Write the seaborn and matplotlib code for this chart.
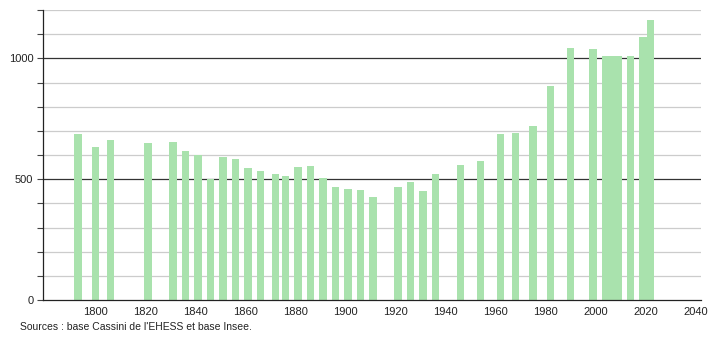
import matplotlib
matplotlib.use("Agg")
import matplotlib.pyplot as plt
import seaborn as sns
import pandas as pd

years = [1793, 1800, 1806, 1821, 1831, 1836, 1841, 1846, 1851, 1856, 1861, 1866,
         1872, 1876, 1881, 1886, 1891, 1896, 1901, 1906, 1911, 1921, 1926, 1931,
         1936, 1946, 1954, 1962, 1968, 1975, 1982, 1990, 1999,
         2004, 2005, 2006, 2007, 2008, 2009, 2014, 2019, 2022]
population = [685, 634, 661, 650, 655, 615, 602, 502, 591, 585, 545, 533,
              520, 512, 549, 553, 506, 466, 458, 456, 425, 466, 490, 452,
              521, 557, 577, 685, 689, 719, 884, 1041, 1037,
              1010, 1010, 1004, 1004, 1008, 1010, 1008, 1090, 1158]
x_ticks = [1800, 1820, 1840, 1860, 1880, 1900, 1920, 1940, 1960, 1980, 2000, 2020, 2040]
y_ticks = [0, 500, 1000]
source_text = "Sources : base Cassini de l'EHESS et base Insee."

df = pd.DataFrame({"year": years, "population": population})

sns.set_style("white")
plt.rcParams["font.family"] = ["Liberation Sans", "DejaVu Sans"]

fig = plt.figure(figsize=(7.1, 3.4), dpi=100)
ax = fig.add_axes([43 / 710, 40 / 340, (700.5 - 43) / 710, 290 / 340])

# gridlines
for v in range(100, 1201, 100):
    if v % 500 == 0:
        ax.axhline(v, color="#333333", lw=0.9, zorder=0)
    else:
        ax.axhline(v, color="#cccccc", lw=0.9, zorder=0)

sns.barplot(data=df, x="year", y="population", native_scale=True, width=3.2,
            color="#a9e2ad", saturation=1, linewidth=0, ax=ax, zorder=2)

ax.set_xlim(1779, 2042)
ax.set_ylim(0, 1200)
ax.set_xticks(x_ticks)
ax.set_xticklabels([str(t) for t in x_ticks])
ax.set_yticks(y_ticks)
ax.set_yticks(range(0, 1201, 100), minor=True)
ax.tick_params(axis="x", length=0, labelsize=8, pad=5, colors="#222222")
ax.tick_params(axis="y", which="both", left=True, length=4, width=0.8, color="#444444",
               labelsize=8, pad=3, labelcolor="#222222")
ax.set_xlabel("")
ax.set_ylabel("")
for s in ["top", "right"]:
    ax.spines[s].set_visible(False)
ax.spines["left"].set_color("#222222")
ax.spines["bottom"].set_color("#222222")
ax.spines["left"].set_linewidth(0.9)
ax.spines["bottom"].set_linewidth(0.9)

fig.text(20 / 710, 1 - 327 / 340, source_text, fontsize=7.5, color="#222222",
         va="center", ha="left")

fig.savefig("out.png", dpi=100)
